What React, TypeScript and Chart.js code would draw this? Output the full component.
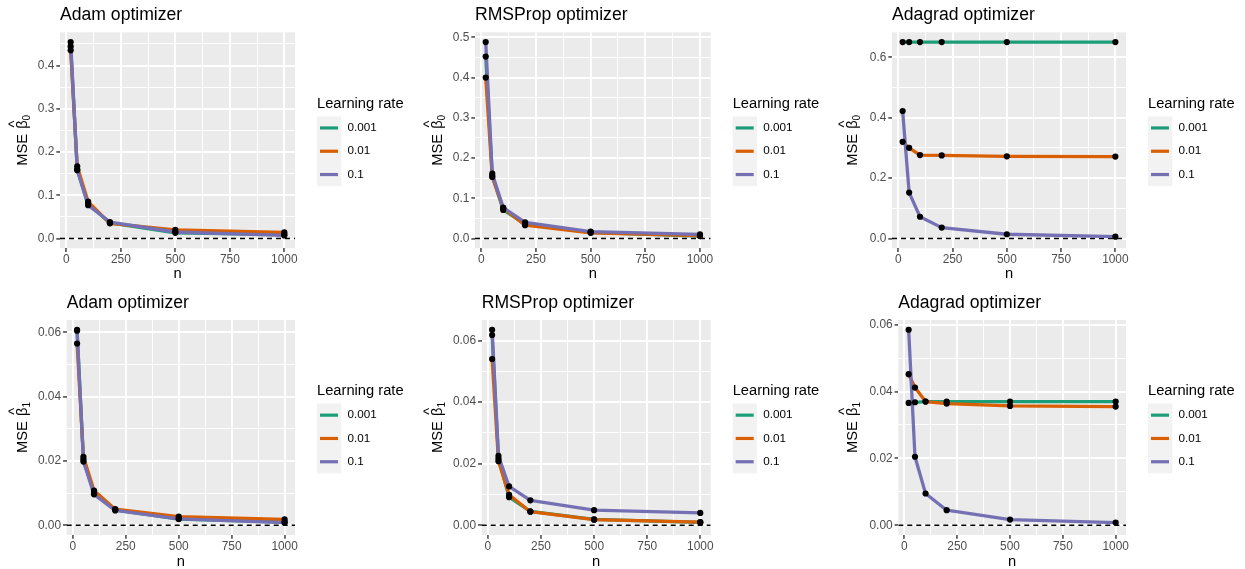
import React, { useEffect, useRef } from 'react';
import { Chart, registerables } from 'chart.js';

Chart.register(...registerables);

const FONT = '"Liberation Sans", Arial, Helvetica, sans-serif';
const COLORS = ['#1B9E77', '#D95F02', '#7570B3'];

// ---------- data ----------
const N_VALUES = [20, 50, 100, 200, 500, 1000];
const LEARNING_RATES = ['0.001', '0.01', '0.1'];

const X_MAJOR = [0, 250, 500, 750, 1000];
const X_LABELS = ['0', '250', '500', '750', '1000'];
const X_MINOR = [125, 375, 625, 875];

// beta0
const adamB0_lr0001 = [0.444, 0.160, 0.080, 0.036, 0.013, 0.009];
const adamB0_lr001 = [0.435, 0.167, 0.085, 0.035, 0.020, 0.014];
const adamB0_lr01 = [0.454, 0.158, 0.077, 0.038, 0.015, 0.007];

const rmsB0_lr0001 = [0.452, 0.155, 0.071, 0.036, 0.015, 0.006];
const rmsB0_lr001 = [0.400, 0.153, 0.075, 0.033, 0.014, 0.007];
const rmsB0_lr01 = [0.488, 0.161, 0.077, 0.040, 0.017, 0.010];

const adaB0_lr0001 = [0.650, 0.650, 0.650, 0.650, 0.650, 0.650];
const adaB0_lr001 = [0.320, 0.300, 0.276, 0.275, 0.272, 0.271];
const adaB0_lr01 = [0.422, 0.152, 0.072, 0.036, 0.014, 0.006];

// beta1
const adamB1_lr0001 = [0.0605, 0.0205, 0.0100, 0.0048, 0.0019, 0.0010];
const adamB1_lr001 = [0.0565, 0.0213, 0.0108, 0.0050, 0.0027, 0.0018];
const adamB1_lr01 = [0.0608, 0.0198, 0.0096, 0.0046, 0.0020, 0.0008];

const rmsB1_lr0001 = [0.0618, 0.0216, 0.0091, 0.0045, 0.0019, 0.0009];
const rmsB1_lr001 = [0.0540, 0.0208, 0.0099, 0.0044, 0.0018, 0.0010];
const rmsB1_lr01 = [0.0635, 0.0225, 0.0126, 0.0081, 0.0049, 0.0040];

const adaB1_lr0001 = [0.0366, 0.0368, 0.0370, 0.0370, 0.0370, 0.0370];
const adaB1_lr001 = [0.0452, 0.0412, 0.0370, 0.0364, 0.0357, 0.0355];
const adaB1_lr01 = [0.0585, 0.0205, 0.0095, 0.0045, 0.0017, 0.0008];

// y tick labels
const Y_B0_STEP1_MAJOR = [0, 0.1, 0.2, 0.3, 0.4, 0.5];
const Y_B0_STEP1_LABELS = ['0.0', '0.1', '0.2', '0.3', '0.4', '0.5'];
const Y_B0_STEP1_MINOR = [0.05, 0.15, 0.25, 0.35, 0.45];
const Y_B0_STEP2_MAJOR = [0, 0.2, 0.4, 0.6];
const Y_B0_STEP2_LABELS = ['0.0', '0.2', '0.4', '0.6'];
const Y_B0_STEP2_MINOR = [0.1, 0.3, 0.5];
const Y_B1_MAJOR = [0, 0.02, 0.04, 0.06];
const Y_B1_LABELS = ['0.00', '0.02', '0.04', '0.06'];
const Y_B1_MINOR = [0.01, 0.03, 0.05];

// y axis title pieces: MSE  hat(beta)[sub]
const Y_TITLE_MAIN = 'MSE';
const Y_TITLE_SYMBOL = '\u03B2';
const Y_TITLE_HAT = '^';

const PANELS = [
  { title: 'Adam optimizer', ySub: '0', series: [adamB0_lr0001, adamB0_lr001, adamB0_lr01], yMajor: Y_B0_STEP1_MAJOR, yLabels: Y_B0_STEP1_LABELS, yMinor: Y_B0_STEP1_MINOR },
  { title: 'RMSProp optimizer', ySub: '0', series: [rmsB0_lr0001, rmsB0_lr001, rmsB0_lr01], yMajor: Y_B0_STEP1_MAJOR, yLabels: Y_B0_STEP1_LABELS, yMinor: Y_B0_STEP1_MINOR },
  { title: 'Adagrad optimizer', ySub: '0', series: [adaB0_lr0001, adaB0_lr001, adaB0_lr01], yMajor: Y_B0_STEP2_MAJOR, yLabels: Y_B0_STEP2_LABELS, yMinor: Y_B0_STEP2_MINOR },
  { title: 'Adam optimizer', ySub: '1', series: [adamB1_lr0001, adamB1_lr001, adamB1_lr01], yMajor: Y_B1_MAJOR, yLabels: Y_B1_LABELS, yMinor: Y_B1_MINOR },
  { title: 'RMSProp optimizer', ySub: '1', series: [rmsB1_lr0001, rmsB1_lr001, rmsB1_lr01], yMajor: Y_B1_MAJOR, yLabels: Y_B1_LABELS, yMinor: Y_B1_MINOR },
  { title: 'Adagrad optimizer', ySub: '1', series: [adaB1_lr0001, adaB1_lr001, adaB1_lr01], yMajor: Y_B1_MAJOR, yLabels: Y_B1_LABELS, yMinor: Y_B1_MINOR },
];

// ---------- layout (px, relative to each panel canvas) ----------
const CANVAS_W = 415;
const CANVAS_H = 284;
const CANVAS_POS = [
  { left: 0, top: 0 }, { left: 415, top: 0 }, { left: 830, top: 0 },
  { left: 0, top: 288 }, { left: 415, top: 288 }, { left: 830, top: 288 },
];
const PLOT_BOX = [
  { l: 60, r: 295, t: 32.3, b: 248.3 },
  { l: 60, r: 295.7, t: 32.3, b: 248.3 },
  { l: 62, r: 296, t: 32.3, b: 248.3 },
  { l: 66.7, r: 295, t: 32, b: 247 },
  { l: 66.7, r: 295.7, t: 32, b: 247 },
  { l: 68.3, r: 296, t: 32, b: 247 },
];
const AXIS_BOTTOM = 282.5;
const Y_TITLE_BASELINE_X = 26.7;

const near = (a: number, b: number) => Math.abs(a - b) < 1e-9;
const isMajorOf = (major: number[], v: number) => major.some((m) => near(m, v));
const labelOf = (major: number[], labels: string[], v: number) => {
  const j = major.findIndex((m) => near(m, v));
  return j >= 0 ? labels[j] : '';
};

const legendPlugin = {
  id: 'ggLegend',
  afterDraw(chart: any) {
    const { ctx, chartArea } = chart;
    const c = (chartArea.top + chartArea.bottom) / 2;
    const x0 = chartArea.right + 22;
    ctx.save();
    ctx.fillStyle = '#000000';
    ctx.font = `14.7px ${FONT}`;
    ctx.textAlign = 'left';
    ctx.textBaseline = 'alphabetic';
    ctx.fillText('Learning rate', x0, c - 32.5);
    const keyTop = c - 24;
    const keyH = 23.3;
    const keyW = 24.3;
    ctx.fillStyle = '#F2F2F2';
    ctx.fillRect(x0, keyTop, keyW, keyH * LEARNING_RATES.length);
    LEARNING_RATES.forEach((lab, i) => {
      const cy = keyTop + keyH * (i + 0.5);
      ctx.strokeStyle = COLORS[i];
      ctx.lineWidth = 3.2;
      ctx.lineCap = 'butt';
      ctx.beginPath();
      ctx.moveTo(x0 + 3, cy);
      ctx.lineTo(x0 + 21, cy);
      ctx.stroke();
      ctx.fillStyle = '#000000';
      ctx.font = `11.7px ${FONT}`;
      ctx.textBaseline = 'middle';
      ctx.fillText(lab, x0 + 30.6, cy);
    });
    ctx.restore();
  },
};

const yTitlePlugin = {
  id: 'ggYTitle',
  afterDraw(chart: any, _args: any, opts: any) {
    const { ctx, chartArea } = chart;
    const cy = (chartArea.top + chartArea.bottom) / 2;
    ctx.save();
    ctx.translate(Y_TITLE_BASELINE_X, cy);
    ctx.rotate(-Math.PI / 2);
    ctx.fillStyle = '#000000';
    ctx.textBaseline = 'alphabetic';
    ctx.textAlign = 'left';
    const mainFont = `14.7px ${FONT}`;
    const subFont = `10px ${FONT}`;
    ctx.font = mainFont;
    const wMain = ctx.measureText(Y_TITLE_MAIN + ' ').width + 1;
    const wSym = ctx.measureText(Y_TITLE_SYMBOL).width;
    const wHat = ctx.measureText(Y_TITLE_HAT).width;
    ctx.font = subFont;
    const wSub = ctx.measureText(opts.sub).width;
    const total = wMain + wSym + wSub;
    const u0 = -total / 2;
    ctx.font = mainFont;
    ctx.fillText(Y_TITLE_MAIN, u0, 0);
    ctx.fillText(Y_TITLE_SYMBOL, u0 + wMain, 0);
    ctx.fillText(Y_TITLE_HAT, u0 + wMain + (wSym - wHat) / 2 + 0.5, -7.5);
    ctx.font = subFont;
    ctx.fillText(opts.sub, u0 + wMain + wSym, 3.5);
    ctx.restore();
  },
};

const bgPlugin = {
  id: 'ggPanelBg',
  beforeDraw(chart: any) {
    const { ctx, chartArea } = chart;
    ctx.save();
    ctx.fillStyle = '#EBEBEB';
    ctx.fillRect(chartArea.left, chartArea.top, chartArea.right - chartArea.left, chartArea.bottom - chartArea.top);
    ctx.restore();
  },
};

function Panel({ idx }: { idx: number }) {
  const ref = useRef<HTMLCanvasElement>(null);
  useEffect(() => {
    const cfg = PANELS[idx];
    const box = PLOT_BOX[idx];
    const all = cfg.series.flat();
    const yLo = Math.min(0, ...all);
    const yHi = Math.max(0, ...all);
    const yPad = (yHi - yLo) * 0.05;
    const ymin = yLo - yPad;
    const ymax = yHi + yPad;
    const xLo = Math.min(...N_VALUES);
    const xHi = Math.max(...N_VALUES);
    const xPad = (xHi - xLo) * 0.05;
    const xmin = xLo - xPad;
    const xmax = xHi + xPad;
    const pts = (arr: number[]) => N_VALUES.map((n, i) => ({ x: n, y: arr[i] }));

    const datasets: any[] = [];
    cfg.series.forEach((s, i) => {
      datasets.push({
        label: LEARNING_RATES[i],
        data: pts(s),
        borderColor: COLORS[i],
        backgroundColor: COLORS[i],
        borderWidth: 3.3,
        borderJoinStyle: 'round',
        pointRadius: 0,
        pointHoverRadius: 0,
        tension: 0,
        order: 3 - i,
      });
    });
    cfg.series.forEach((s, i) => {
      datasets.push({
        label: 'pts' + i,
        data: pts(s),
        showLine: false,
        pointRadius: 3.1,
        pointHoverRadius: 3.1,
        pointBackgroundColor: '#000000',
        pointBorderWidth: 0,
        order: 0,
      });
    });
    datasets.push({
      label: 'zero',
      data: [{ x: xmin, y: 0 }, { x: xmax, y: 0 }],
      borderColor: '#000000',
      borderWidth: 1.4,
      borderDash: [5, 4],
      pointRadius: 0,
      pointHoverRadius: 0,
      order: 5,
    });

    const xTicks = [...X_MAJOR, ...X_MINOR].filter((v) => v >= xmin && v <= xmax).sort((a, b) => a - b);
    const yTicks = [...cfg.yMajor, ...cfg.yMinor].filter((v) => v >= ymin && v <= ymax).sort((a, b) => a - b);

    const chart = new Chart(ref.current as HTMLCanvasElement, {
      type: 'line',
      data: { datasets },
      plugins: [bgPlugin, legendPlugin, yTitlePlugin],
      options: {
        animation: false,
        responsive: false,
        maintainAspectRatio: false,
        events: [],
        layout: { padding: { left: 0, top: 0, right: CANVAS_W - box.r, bottom: CANVAS_H - AXIS_BOTTOM } },
        plugins: {
          legend: { display: false },
          tooltip: { enabled: false },
          ggYTitle: { sub: cfg.ySub },
          title: {
            display: true,
            text: cfg.title,
            align: 'start',
            fullSize: false,
            color: '#000000',
            font: { family: FONT, size: 17.6, weight: 'normal' },
            padding: { top: 5, bottom: box.t - 21.12 - 5 },
          },
        },
        scales: {
          x: {
            type: 'linear',
            min: xmin,
            max: xmax,
            afterBuildTicks: (s: any) => { s.ticks = xTicks.map((v) => ({ value: v })); },
            afterFit: (s: any) => { s.height = AXIS_BOTTOM - box.b; },
            border: { display: false },
            grid: {
              color: '#FFFFFF',
              lineWidth: (c: any) => (isMajorOf(X_MAJOR, c.tick.value) ? 1.9 : 0.95),
              drawTicks: true,
              tickLength: 3.67,
              tickWidth: 1.4,
              tickColor: (c: any) => (isMajorOf(X_MAJOR, c.tick.value) ? '#333333' : 'rgba(0,0,0,0)'),
            },
            ticks: {
              autoSkip: false,
              maxRotation: 0,
              padding: 0.5,
              color: '#4D4D4D',
              font: { family: FONT, size: 11.9 },
              callback: (v: any) => labelOf(X_MAJOR, X_LABELS, Number(v)),
            },
            title: { display: true, text: 'n', color: '#000000', font: { family: FONT, size: 14.7 }, padding: 0 },
          },
          y: {
            type: 'linear',
            min: ymin,
            max: ymax,
            afterBuildTicks: (s: any) => { s.ticks = yTicks.map((v) => ({ value: v })); },
            afterFit: (s: any) => { s.width = box.l; },
            border: { display: false },
            grid: {
              color: '#FFFFFF',
              lineWidth: (c: any) => (isMajorOf(cfg.yMajor, c.tick.value) ? 1.9 : 0.95),
              drawTicks: true,
              tickLength: 3.67,
              tickWidth: 1.4,
              tickColor: (c: any) => (isMajorOf(cfg.yMajor, c.tick.value) ? '#333333' : 'rgba(0,0,0,0)'),
            },
            ticks: {
              autoSkip: false,
              padding: 2,
              color: '#4D4D4D',
              font: { family: FONT, size: 11.9 },
              callback: (v: any) => labelOf(cfg.yMajor, cfg.yLabels, Number(v)),
            },
            title: { display: false },
          },
        },
      } as any,
    });
    return () => chart.destroy();
  }, [idx]);

  const pos = CANVAS_POS[idx];
  return (
    <canvas
      ref={ref}
      width={CANVAS_W}
      height={CANVAS_H}
      style={{ position: 'absolute', left: pos.left, top: pos.top, width: CANVAS_W, height: CANVAS_H }}
    />
  );
}

export default function App() {
  return (
    <div style={{ position: 'absolute', left: 0, top: 0, width: 1245, height: 569, overflow: 'hidden', background: '#FFFFFF' }}>
      {PANELS.map((_, i) => (
        <Panel key={i} idx={i} />
      ))}
    </div>
  );
}
